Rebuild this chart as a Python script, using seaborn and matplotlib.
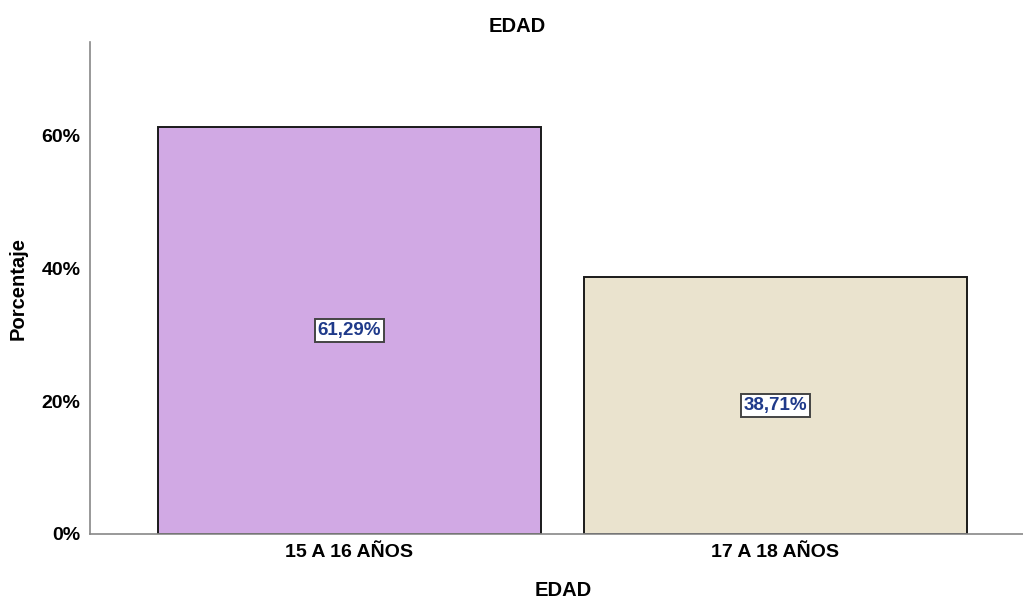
import pandas as pd
import seaborn as sns
import matplotlib.pyplot as plt
from matplotlib.ticker import FuncFormatter

# data
categories = ['15 A 16 AÑOS', '17 A 18 AÑOS']
percentages = [61.29, 38.71]
labels = ['61,29%', '38,71%']
colors = ['#D1A9E4', '#EAE3CE']

df = pd.DataFrame({'EDAD': categories, 'Porcentaje': percentages})

sns.set_style('white')
plt.rcParams['font.family'] = ['Liberation Sans', 'DejaVu Sans']

fig = plt.figure(figsize=(10.23, 6.0), dpi=100)
ax = fig.add_axes([0.088, 0.11, 0.912, 0.82])

sns.barplot(data=df, x='EDAD', y='Porcentaje', hue='EDAD', palette=colors,
            saturation=1, width=0.9, edgecolor='#1a1a1a', linewidth=1.4,
            legend=False, ax=ax)

# value labels in white boxes at mid-height
for i, (val, lab) in enumerate(zip(percentages, labels)):
    ax.text(i, val / 2, lab, ha='center', va='center', fontsize=13.5,
            fontweight='bold', color='#1F3A8A',
            bbox=dict(boxstyle='square,pad=0.15', facecolor='white',
                      edgecolor='#444444', linewidth=1.4))

ax.set_xlim(-0.609, 1.581)
ax.set_ylim(0, 74)
ax.set_yticks([0, 20, 40, 60])
ax.yaxis.set_major_formatter(FuncFormatter(lambda v, p: f'{v:.0f}%'))
ax.tick_params(axis='both', length=0, labelsize=14, colors='black', pad=7)
for t in ax.get_xticklabels() + ax.get_yticklabels():
    t.set_fontweight('bold')

# title and x label sit where the reference puts them
fig.text(517 / 1023, 1 - 27 / 600, 'EDAD', ha='center', va='center',
         fontsize=14.5, fontweight='bold', color='black')
ax.set_xlabel('')
fig.text(563 / 1023, 1 - 590 / 600, 'EDAD', ha='center', va='center',
         fontsize=14.5, fontweight='bold', color='black')
ax.set_ylabel('Porcentaje', fontsize=14.5, fontweight='bold', color='black', labelpad=10)

for s in ['top', 'right']:
    ax.spines[s].set_visible(False)
for s in ['left', 'bottom']:
    ax.spines[s].set_color('#888888')
    ax.spines[s].set_linewidth(1.2)

plt.savefig('out.png', dpi=100)
